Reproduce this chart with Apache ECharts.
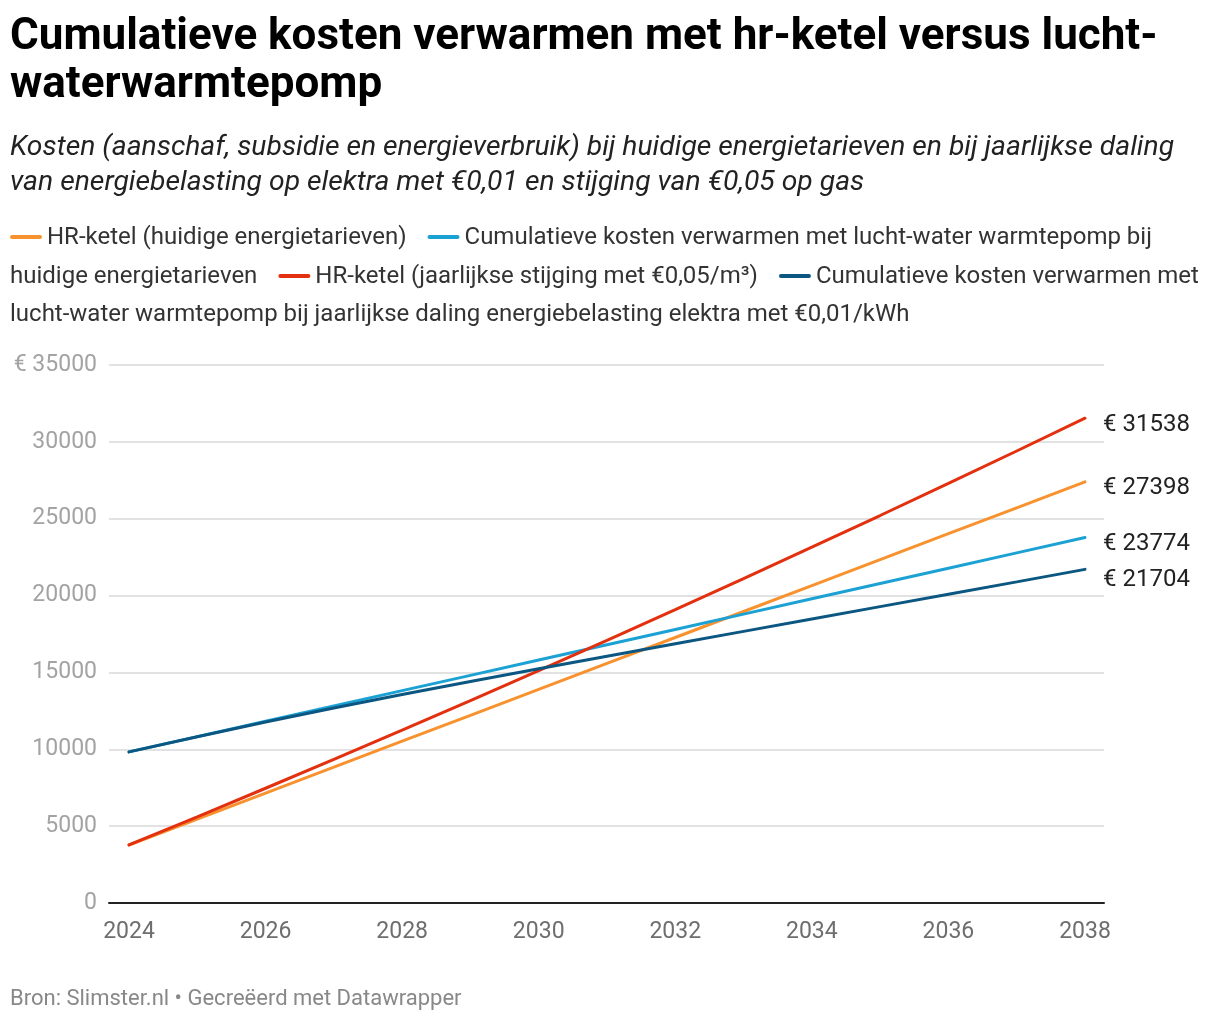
<!DOCTYPE html>
<html>
<head>
<meta charset="utf-8">
<script src="https://cdn.jsdelivr.net/npm/echarts@6/dist/echarts.min.js"></script>
<style>
html,body{margin:0;padding:0;background:#fff;}
#chart{width:1220px;height:1020px;}
</style>
</head>
<body>
<div id="chart"></div>
<script>
// ---- data ----
const years = ['2024','2025','2026','2027','2028','2029','2030','2031','2032','2033','2034','2035','2036','2037','2038'];
const hrKetelHuidig = [3775,5462,7150,8837,10525,12212,13899,15587,17274,18962,20649,22336,24024,25711,27398];
const wpHuidig = [9830,10826,11822,12818,13814,14810,15806,16802,17798,18794,19790,20786,21782,22778,23774];
const hrKetelStijging = [3775,5609,7465,9345,11247,13172,15121,17092,19087,21104,23145,25208,27295,29404,31538];
const wpDaling = [9830,10815,11770,12685,13560,14410,15240,16055,16865,17670,18475,19280,20085,20890,21704];
const yMin = 0, yMax = 35000, yStep = 5000;
const seriesNames = [
  'HR-ketel (huidige energietarieven)',
  'Cumulatieve kosten verwarmen met lucht-water warmtepomp bij huidige energietarieven',
  'HR-ketel (jaarlijkse stijging met €0,05/m³)',
  'Cumulatieve kosten verwarmen met lucht-water warmtepomp bij jaarlijkse daling energiebelasting elektra met €0,01/kWh'
];
const colors = ['#f8922f', '#1ba1d3', '#e3300e', '#0b5781'];
const titleText = 'Cumulatieve kosten verwarmen met hr-ketel versus lucht-\nwaterwarmtepomp';
const subText = 'Kosten (aanschaf, subsidie en energieverbruik) bij huidige energietarieven en bij jaarlijkse daling\nvan energiebelasting op elektra met €0,01 en stijging van €0,05 op gas';
const footerText = 'Bron: Slimster.nl • Gecreëerd met Datawrapper';

const FONT = 'Roboto, "Noto Sans", sans-serif';

// ---- legend layout (inline flow like the reference) ----
const legFont = 24;
const ctx = document.createElement('canvas').getContext('2d');
ctx.font = legFont + 'px Roboto';
const tw = s => ctx.measureText(s).width;
const legendRows = [
  [{sw:0},{t:'HR-ketel (huidige energietarieven)'},{gap:1},{sw:1},{t:'Cumulatieve kosten verwarmen met lucht-water warmtepomp bij'}],
  [{t:'huidige energietarieven'},{gap:1},{sw:2},{t:'HR-ketel (jaarlijkse stijging met €0,05/m³)'},{gap:1},{sw:3},{t:'Cumulatieve kosten verwarmen met'}],
  [{t:'lucht-water warmtepomp bij jaarlijkse daling energiebelasting elektra met €0,01/kWh'}]
];
const rowY = [238, 277, 315];
const legendGraphics = [];
legendRows.forEach((row, ri) => {
  let x = 10;
  row.forEach(it => {
    if (it.sw !== undefined) {
      legendGraphics.push({type:'line', shape:{x1:x+2, y1:rowY[ri]-1, x2:x+30, y2:rowY[ri]-1},
        style:{stroke:colors[it.sw], lineWidth:4, lineCap:'round'}, silent:true});
      x += 37;
    } else if (it.gap) {
      x += 21;
    } else {
      legendGraphics.push({type:'text', x:x, y:rowY[ri],
        style:{text:it.t, fontSize:legFont, fontFamily:FONT, fill:'#333', textVerticalAlign:'middle', textAlign:'left'}, silent:true});
      x += tw(it.t);
    }
  });
});

const chart = echarts.init(document.getElementById('chart'), null, {renderer:'canvas'});
const endOffsets = [[0,6],[0,6],[0,7],[0,11]];
const dataSets = [hrKetelHuidig, wpHuidig, hrKetelStijging, wpDaling];

const option = {
  animation: false,
  backgroundColor: '#fff',
  title: [
    {text: titleText, left: 10, top: 14, padding: 0,
     textStyle:{fontSize:44, fontWeight:'bold', fontFamily:FONT, color:'#000', lineHeight:48}},
    {text: subText, left: 10, top: 130, padding: 0,
     textStyle:{fontSize:28.3, fontStyle:'italic', fontWeight:'normal', fontFamily:FONT, color:'#222', lineHeight:35}},
    {text: footerText, left: 10, top: 988, padding: 0,
     textStyle:{fontSize:22, fontWeight:'normal', fontFamily:FONT, color:'#888'}}
  ],
  graphic: legendGraphics,
  grid: [
    {left:109, right:116, top:365, bottom:117},
    {left:129, right:135, top:365, bottom:117}
  ],
  xAxis: [
    {gridIndex:0, type:'value', min:0, max:1, axisLine:{show:true, lineStyle:{color:'#222', width:2}},
     axisTick:{show:false}, axisLabel:{show:false}, splitLine:{show:false}},
    {gridIndex:1, type:'category', data:years, boundaryGap:false,
     axisLine:{show:false}, axisTick:{show:false}, splitLine:{show:false},
     axisLabel:{interval:1, color:'#6e6e6e', fontSize:23, fontFamily:FONT, margin:18}}
  ],
  yAxis: [
    {gridIndex:0, type:'value', min:yMin, max:yMax, interval:yStep,
     axisLine:{show:false}, axisTick:{show:false},
     splitLine:{show:true, lineStyle:{color:'#e2e2e2', width:2}},
     axisLabel:{color:'#a3a3a3', fontSize:23, fontFamily:FONT, margin:12, padding:[6,0,0,0],
       formatter: v => v === yMax ? '€ ' + v : String(v)}},
    {gridIndex:1, type:'value', min:yMin, max:yMax, interval:yStep, show:false}
  ],
  series: dataSets.map((d, i) => ({
    name: seriesNames[i], type:'line', xAxisIndex:1, yAxisIndex:1, data:d,
    showSymbol:false, symbol:'none', smooth:false,
    lineStyle:{color:colors[i], width:3, cap:'round'},
    itemStyle:{color:colors[i]},
    endLabel:{show:true, formatter: p => '€ ' + p.value, distance:18, offset:endOffsets[i],
      color:'#222', fontSize:24, fontFamily:FONT},
    z: 2 + i
  }))
};
chart.setOption(option);
</script>
</body>
</html>
